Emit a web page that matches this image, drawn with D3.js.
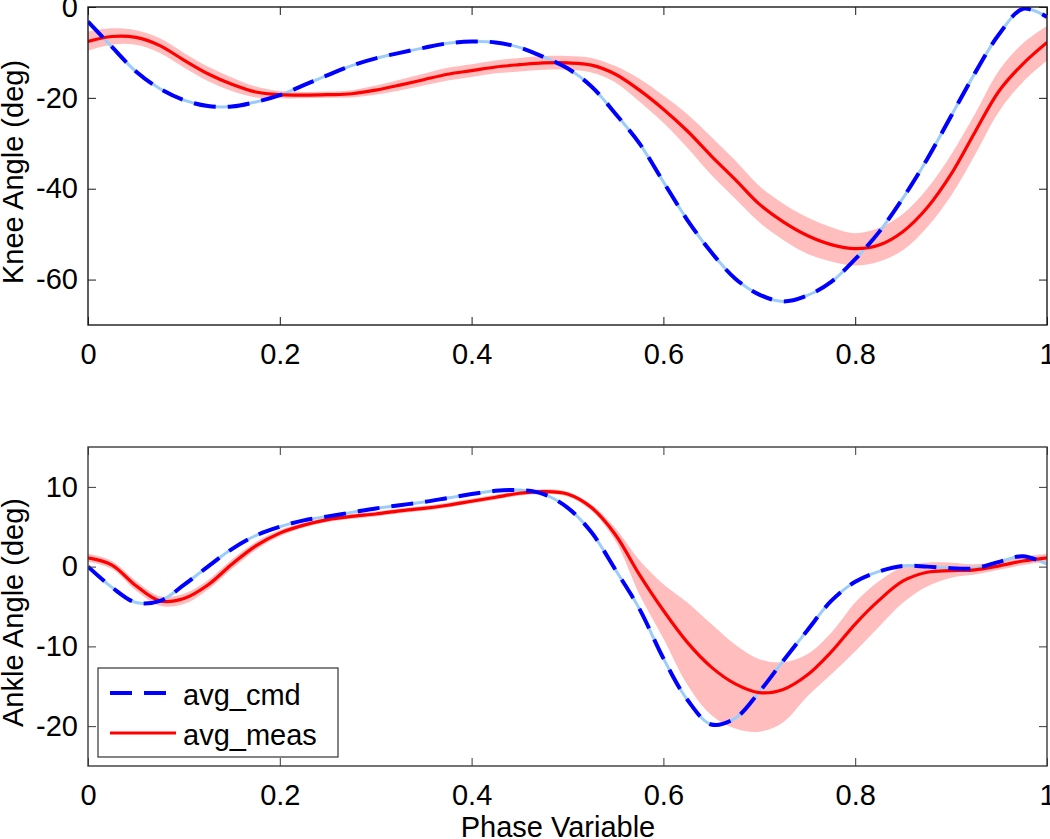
<!DOCTYPE html>
<html><head><meta charset="utf-8">
<script src="https://cdn.jsdelivr.net/npm/d3@7/dist/d3.min.js"></script>
<style>
body{margin:0;background:#fff;}
svg{display:block;font-family:"Liberation Sans",Arial,sans-serif;}
</style></head>
<body><svg id="c" width="1050" height="839"></svg>
<script>
const phase = [0,0.025,0.05,0.075,0.1,0.125,0.15,0.175,0.2,0.225,0.25,0.275,0.3,0.325,0.35,0.375,0.4,0.425,0.45,0.475,0.5,0.525,0.55,0.575,0.6,0.625,0.65,0.675,0.7,0.725,0.75,0.775,0.8,0.825,0.85,0.875,0.9,0.925,0.95,0.975,1.0];

const kneeCmd = [-3.2,-8.8,-14.2,-18.0,-20.5,-21.8,-21.9,-20.9,-19.4,-17.2,-15.0,-12.9,-11.3,-10.1,-9.0,-8.0,-7.6,-7.8,-8.9,-11.0,-13.5,-17.5,-23.5,-30.0,-38.5,-46.9,-54.0,-59.8,-63.3,-64.8,-63.5,-60.5,-55.5,-49.5,-42.0,-33.5,-24.0,-14.5,-6.0,-0.4,-2.2];
const kneeMeas = [-7.6,-6.5,-6.7,-8.5,-11.7,-14.7,-17.0,-18.7,-19.3,-19.4,-19.3,-19.1,-18.3,-17.2,-16.0,-14.8,-14.0,-13.2,-12.7,-12.3,-12.3,-12.8,-14.8,-18.3,-22.5,-27.3,-32.8,-38.0,-43.4,-47.3,-50.3,-52.3,-53.2,-52.4,-49.4,-44.2,-36.8,-27.5,-18.5,-12.5,-7.8];
const kneeMeasLo = [-9.6,-8.3,-8.3,-10.1,-13.3,-16.3,-18.5,-19.9,-20.1,-20.1,-20.0,-19.9,-19.3,-18.4,-17.3,-16.2,-15.4,-14.6,-14.2,-13.8,-13.8,-14.4,-16.6,-20.8,-25.5,-31.0,-37.0,-42.2,-47.4,-51.3,-54.3,-56.0,-56.9,-56.0,-53.5,-48.5,-41.5,-32.5,-23.0,-16.5,-11.8];
const kneeMeasHi = [-5.4,-4.7,-5.1,-6.9,-10.1,-13.1,-15.5,-17.5,-18.5,-18.7,-18.6,-18.3,-17.3,-16.0,-14.7,-13.4,-12.6,-11.8,-11.2,-10.8,-10.8,-11.2,-13.0,-15.8,-19.5,-23.6,-28.6,-33.8,-39.4,-43.3,-46.3,-48.5,-49.8,-48.6,-45.5,-40.0,-32.5,-23.5,-14.0,-8.0,-4.2];

const ankleCmd = [0.0,-2.6,-4.5,-4.3,-2.3,0.0,2.2,3.9,5.0,5.8,6.3,6.8,7.3,7.7,8.1,8.6,9.1,9.5,9.6,9.1,7.4,4.3,-0.4,-5.3,-11.5,-16.7,-19.8,-19.0,-15.7,-11.8,-8.0,-4.3,-1.9,-0.6,0.1,0.0,-0.2,-0.2,0.6,1.3,0.3];
const ankleMeas = [1.1,0.2,-2.4,-4.3,-4.0,-2.3,0.3,2.6,4.2,5.2,5.9,6.3,6.6,7.0,7.3,7.7,8.2,8.7,9.2,9.4,9.1,7.4,4.0,-1.0,-5.5,-9.5,-12.6,-14.7,-15.8,-15.4,-13.6,-10.7,-7.2,-4.2,-1.8,-0.7,-0.5,-0.4,0.1,0.7,1.1];
const ankleMeasLo = [0.6,-0.3,-3.0,-4.9,-4.7,-2.9,-0.3,2.1,3.8,4.9,5.6,6.0,6.3,6.7,7.0,7.4,7.9,8.4,8.9,9.1,8.8,7.0,3.2,-3.5,-9.0,-14.8,-18.6,-20.3,-20.7,-19.5,-16.3,-13.5,-10.6,-7.5,-4.5,-2.5,-1.4,-1.0,-0.4,0.2,0.6];
const ankleMeasHi = [1.6,0.7,-1.8,-3.7,-3.4,-1.7,0.9,3.1,4.6,5.5,6.2,6.6,6.9,7.3,7.6,8.0,8.5,9.0,9.5,9.7,9.4,7.8,4.8,0.8,-2.2,-4.5,-7.2,-9.8,-11.6,-12.0,-11.0,-8.3,-4.5,-1.8,0.0,0.5,0.5,0.3,0.6,1.2,1.6];

const xTicks = [0,0.2,0.4,0.6,0.8,1];
const kneeTicks = [-60,-40,-20,0];
const ankleTicks = [-20,-10,0,10];
const kneeDomain = [-70,0];
const ankleDomain = [-25,15];
const seriesNames = ["avg_cmd","avg_meas"];
const xLabel = "Phase Variable";
const kneeLabel = "Knee Angle (deg)";
const ankleLabel = "Ankle Angle (deg)";

const svg = d3.select("#c");
const FS = 29;
const x = d3.scaleLinear().domain([0,1]).range([88,1047]);

function panel(yDomain, yRange, ticks, label, cmd, meas, lo, hi, frameColor, labelDy){
  const y = d3.scaleLinear().domain(yDomain).range(yRange);
  const g = svg.append("g");
  const clipId = "clip"+Math.round(yRange[1]);
  svg.append("clipPath").attr("id",clipId).append("rect")
    .attr("x",x.range()[0]).attr("y",yRange[1]).attr("width",x.range()[1]-x.range()[0]).attr("height",yRange[0]-yRange[1]);
  const pg = g.append("g").attr("clip-path","url(#"+clipId+")");
  const curve = d3.curveCatmullRom.alpha(0.5);
  const area = d3.area().x((d,i)=>x(phase[i])).y0((d,i)=>y(lo[i])).y1((d,i)=>y(hi[i])).curve(curve);
  pg.append("path").datum(phase).attr("d",area).attr("fill","#ffbdbd");
  const line = arr => d3.line().x((d,i)=>x(phase[i])).y((d,i)=>y(arr[i])).curve(curve)(phase);
  pg.append("path").attr("d",line(cmd)).attr("fill","none").attr("stroke","#9ccdfa").attr("stroke-width",3);
  pg.append("path").attr("d",line(meas)).attr("fill","none").attr("stroke","#ff0000").attr("stroke-width",3.2);
  pg.append("path").attr("d",line(cmd)).attr("fill","none").attr("stroke","#0000ff").attr("stroke-width",4).attr("stroke-dasharray","22,12");

  const fmt = d => String(d);
  const gb = g.append("g").attr("transform",`translate(0,${yRange[0]})`).call(d3.axisBottom(x).tickValues(xTicks).tickSize(-8).tickPadding(18).tickFormat(fmt));
  const gt = g.append("g").attr("transform",`translate(0,${yRange[1]})`).call(d3.axisTop(x).tickValues(xTicks).tickSize(-8).tickFormat(""));
  const gl = g.append("g").attr("transform",`translate(${x.range()[0]},0)`).call(d3.axisLeft(y).tickValues(ticks).tickSize(-8).tickPadding(10).tickFormat(fmt));
  const gr = g.append("g").attr("transform",`translate(${x.range()[1]},0)`).call(d3.axisRight(y).tickValues(ticks).tickSize(-8).tickFormat(""));
  [gb,gt,gl,gr].forEach(a=>{
    a.select(".domain").remove();
    a.selectAll(".tick line").attr("stroke",frameColor).attr("stroke-width",1);
    a.selectAll("text").attr("font-size",FS).attr("fill","#000").attr("font-family","Liberation Sans, Arial, sans-serif");
  });
  g.append("rect").attr("x",x.range()[0]).attr("y",yRange[1]).attr("width",x.range()[1]-x.range()[0]).attr("height",yRange[0]-yRange[1])
    .attr("fill","none").attr("stroke",frameColor).attr("stroke-width",1.4);
  const cy = (yRange[0]+yRange[1])/2 + labelDy;
  g.append("text").attr("transform",`translate(23,${cy}) rotate(-90)`).attr("text-anchor","middle")
    .attr("font-size",FS).attr("fill","#000").text(label);
  return {g,y};
}

panel(kneeDomain,[325,7],kneeTicks,kneeLabel,kneeCmd,kneeMeas,kneeMeasLo,kneeMeasHi,"#1a1a1a",6);
panel(ankleDomain,[766,447],ankleTicks,ankleLabel,ankleCmd,ankleMeas,ankleMeasLo,ankleMeasHi,"#3a3a3a",6);

svg.append("text").attr("x",558).attr("y",837).attr("text-anchor","middle").attr("font-size",FS).attr("fill","#000").text(xLabel);

// legend
const lg = svg.append("g");
lg.append("rect").attr("x",98).attr("y",668).attr("width",240).attr("height",89).attr("fill","#fff").attr("stroke","#333").attr("stroke-width",1.2);
const legendColors = ["#0000ff","#ff0000"];
const legendDash = ["22,12",null];
seriesNames.forEach((n,i)=>{
  const yy = 693 + i*40;
  lg.append("line").attr("x1",110).attr("x2",176).attr("y1",yy).attr("y2",yy)
    .attr("stroke",legendColors[i]).attr("stroke-width",i===0?4:3.2).attr("stroke-dasharray",legendDash[i]);
  lg.append("text").attr("x",183).attr("y",yy+12).attr("font-size",FS).attr("fill","#000").text(n);
});
</script></body></html>
